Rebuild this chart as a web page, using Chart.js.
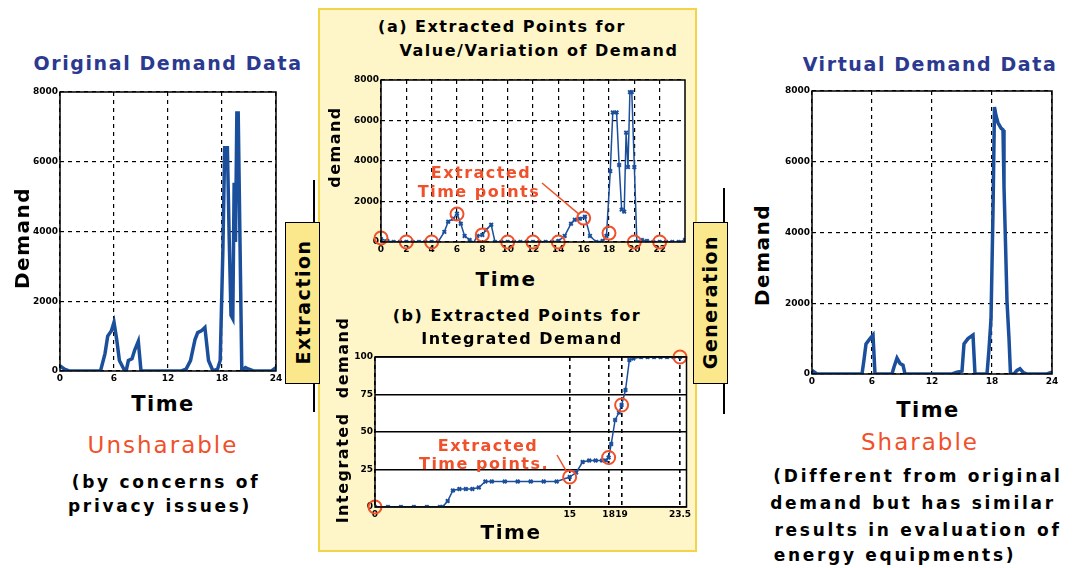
<!DOCTYPE html>
<html>
<head>
<meta charset="utf-8">
<script src="https://cdn.jsdelivr.net/npm/chart.js@4.4.1/dist/chart.umd.min.js"></script>
<style>
  body { margin: 0; background: #fff; }
  #stage { position: relative; width: 1074px; height: 568px; overflow: hidden;
           font-family: "DejaVu Sans", sans-serif; font-weight: bold; color: #000; }
  canvas { position: absolute; }
  .t { position: absolute; white-space: nowrap; transform: translate(-50%, -50%); }
  .r { position: absolute; white-space: nowrap; transform: translate(-50%, -50%) rotate(-90deg); }
  .blue { color: #2b3990; font-size: 19px; letter-spacing: 1.6px; }
  .axis { font-size: 20px; letter-spacing: 1.5px; }
  .sub { font-size: 16px; letter-spacing: 1.5px; }
  .note { color: #f0502a; font-size: 16px; letter-spacing: 1.5px; }
  .share { color: #f0502a; font-size: 23px; font-weight: normal; letter-spacing: 2px; }
  .desc { font-size: 17px; letter-spacing: 2.7px; }
  #panel { position: absolute; left: 318px; top: 8px; width: 375px; height: 540px;
           background: #fef6c8; border: 2px solid #f3d447; }
  .arrow { position: absolute; background: #fce88c; border: 1.5px solid #000; }
  .edge { position: absolute; width: 2px; background: #000; }
</style>
</head>
<body>
<div id="stage">
  <div id="panel"></div>

  <canvas id="cOrig" width="270" height="310" style="left:20px;top:82px"></canvas>
  <canvas id="cValue" width="370" height="195" style="left:325px;top:70px"></canvas>
  <canvas id="cInteg" width="370" height="180" style="left:325px;top:347px"></canvas>
  <canvas id="cVirt" width="290" height="313" style="left:775px;top:81px"></canvas>

  <div class="edge" style="left:313px;top:180px;height:232px"></div>
  <div class="arrow" style="left:285px;top:222px;width:33px;height:160px"></div>
  <div class="r axis" style="left:303px;top:302px;font-size:19px">Extraction</div>

  <div class="edge" style="left:723px;top:188px;height:226px"></div>
  <div class="arrow" style="left:693px;top:222px;width:33px;height:160px"></div>
  <div class="r axis" style="left:710px;top:302px;font-size:19px">Generation</div>

  <div class="t blue" style="left:168px;top:63px">Original Demand Data</div>
  <div class="r axis" style="left:22px;top:238px">Demand</div>
  <div class="t axis" style="left:163px;top:404px;font-size:21px">Time</div>
  <div class="t share" style="left:163px;top:445px">Unsharable</div>
  <div class="t desc" style="left:166px;top:482px">(by concerns of</div>
  <div class="t desc" style="left:160px;top:506px">privacy issues)</div>

  <div class="t sub" style="left:502px;top:26px">(a) Extracted Points for</div>
  <div class="t sub" style="left:539px;top:50px">Value/Variation of Demand</div>
  <div class="r sub" style="left:334px;top:147px">demand</div>
  <div class="t axis" style="left:506px;top:279px">Time</div>
  <div class="t note" style="left:481px;top:172px">Extracted</div>
  <div class="t note" style="left:479px;top:191px">Time points</div>

  <div class="t sub" style="left:517px;top:315px">(b) Extracted Points for</div>
  <div class="t sub" style="left:522px;top:338px">Integrated Demand</div>
  <div class="r sub" style="left:342px;top:420px">Integrated&nbsp; demand</div>
  <div class="t axis" style="left:511px;top:532px">Time</div>
  <div class="t note" style="left:488px;top:445px">Extracted</div>
  <div class="t note" style="left:484px;top:463px">Time points.</div>

  <div class="t blue" style="left:930px;top:64px">Virtual Demand Data</div>
  <div class="r axis" style="left:762px;top:255px">Demand</div>
  <div class="t axis" style="left:928px;top:410px;font-size:21px">Time</div>
  <div class="t share" style="left:920px;top:442px">Sharable</div>
  <div class="t desc" style="left:918px;top:476px">(Different from original</div>
  <div class="t desc" style="left:913px;top:503px">demand but has similar</div>
  <div class="t desc" style="left:918px;top:530px">results in evaluation of</div>
  <div class="t desc" style="left:895px;top:555px">energy equipments)</div>
</div>

<script>
// original demand (hours, demand)
const origTime = [0, 0.5, 1, 1.5, 2, 2.5, 3, 3.5, 4, 4.5, 5, 5.3, 5.7, 6, 6.3, 6.6, 7, 7.3, 7.6, 8,
    8.3, 8.7, 9, 9.5, 10, 10.5, 11, 11.5, 12, 12.5, 13, 13.5, 14, 14.5, 15, 15.3, 15.7, 16.1, 16.5, 17,
    17.5, 17.8, 18.1, 18.3, 18.6, 18.8, 19, 19.2, 19.35, 19.5, 19.65, 19.8, 20, 20.2, 20.6, 21, 21.5, 22, 22.5, 23,
    23.5, 24];
const origDemand = [150, 50, 0, 0, 0, 0, 0, 0, 0, 0, 500, 1000, 1150, 1400, 900, 300, 100, -50, 300, 350,
    600, 850, 0, 0, 0, 0, 0, 0, 0, 0, 0, 0, 50, 300, 900, 1100, 1150, 1250, 300, 0,
    50, 300, 3500, 6400, 6400, 3800, 1600, 1500, 5400, 3700, 7400, 7400, 3700, 0, 100, 50, 0, 0, 0, 0,
    0, 100];

// extracted points for value / variation
const valueExtractTime = [0, 2, 4, 6, 8, 10, 12, 14, 16, 18, 20, 22];
const valueExtractDemand = [200, 0, 0, 1380, 350, 0, 0, 0, 1180, 440, 0, 0];

// integrated demand
const integTime = [0, 1, 2, 3, 4, 5, 5.2, 5.6, 6, 6.5, 7, 7.5, 8, 8.5, 9, 10, 11, 12, 13, 14,
    15, 15.5, 16, 16.5, 17, 17.5, 17.8, 18, 18.2, 18.5, 18.8, 19, 19.3, 19.6, 19.9, 20.5, 21, 21.5, 22, 22.5,
    23, 23.5];
const integDemand = [0, 0, 0, 0, 0, 0, 0, 4, 11, 12, 12, 12, 13, 17, 17, 17, 17, 17, 17, 17,
    20, 23, 30, 31, 31, 31, 31, 33, 42, 58, 63, 68, 78, 98, 99, 100, 100, 100, 100, 100,
    100, 100];
const integExtractTime = [0, 15, 18, 19, 23.5];
const integExtractDemand = [0, 20, 33, 68, 100];

// virtual (generated) demand
const virtTime = [0, 0.5, 1, 1.5, 2, 2.5, 3, 3.5, 4, 4.5, 5, 5.2, 5.4, 5.8, 6.1, 6.3, 6.6, 7, 7.5, 8,
    8.2, 8.5, 8.8, 9.1, 9.3, 9.6, 10, 10.5, 11, 11.5, 12, 12.5, 13, 13.5, 14, 14.5, 15, 15.2, 15.6, 16.1,
    16.3, 16.6, 17, 17.5, 17.7, 17.9, 18.1, 18.25, 18.4, 18.6, 18.9, 19.1, 19.2, 19.35, 19.5, 19.7, 19.85, 20.2, 20.5, 20.8,
    21.1, 21.5, 22, 22.5, 23, 23.5, 24];
const virtDemand = [100, 0, 0, 0, 0, 0, 0, 0, 0, 0, 0, 400, 850, 1000, 1100, 0, 0, 0, 0, 0,
    200, 450, 300, 250, 0, 0, 0, 0, 0, 0, 0, 0, 0, 0, 0, 50, 80, 850, 1000, 1100,
    0, 0, 0, 0, 700, 1550, 4600, 7550, 7300, 7100, 6950, 6900, 5300, 3700, 2050, 1000, 0, 0, 100, 150,
    50, 0, 0, 0, 0, 0, 50];

// tick labels
const dayTicks = [0, 6, 12, 18, 24];
const demandTicks = [0, 2000, 4000, 6000, 8000];
const valueTimeTicks = [0, 2, 4, 6, 8, 10, 12, 14, 16, 18, 20, 22];
const integTimeTicks = [0, 15, 18, 19, 23.5];
const integTicks = [0, 25, 50, 75, 100];

const BLUE = '#1b4f9c';
const RED = '#f0502a';

const toPoints = (xs, ys) => xs.map((x, i) => ({ x: x, y: ys[i] }));

// white plot area + black frame around it
const framePlugin = {
    id: 'frame',
    beforeDraw(chart) {
        const { ctx, chartArea: a } = chart;
        ctx.save();
        ctx.fillStyle = '#fff';
        ctx.fillRect(a.left, a.top, a.width, a.height);
        ctx.restore();
    },
    afterDraw(chart) {
        const { ctx, chartArea: a } = chart;
        ctx.save();
        ctx.strokeStyle = '#000';
        ctx.lineWidth = 1.5;
        ctx.strokeRect(a.left, a.top, a.width, a.height);
        ctx.restore();
    },
};

// pointer line from a label to an extracted point
const pointerPlugin = {
    id: 'pointer',
    afterDraw(chart, args, opts) {
        if (opts.tx === undefined) return;
        const ctx = chart.ctx;
        const px = chart.scales.x.getPixelForValue(opts.tx);
        const py = chart.scales.y.getPixelForValue(opts.ty);
        const dx = px - opts.fx, dy = py - opts.fy;
        const len = Math.sqrt(dx * dx + dy * dy);
        ctx.save();
        ctx.strokeStyle = RED;
        ctx.lineWidth = 1.5;
        ctx.beginPath();
        ctx.moveTo(opts.fx, opts.fy);
        ctx.lineTo(px - dx / len * 7, py - dy / len * 7);
        ctx.stroke();
        ctx.restore();
    },
};

function axis(min, max, ticks, size, dashed, horizontal) {
    return {
        type: 'linear',
        min: min,
        max: max,
        afterBuildTicks: (s) => { s.ticks = ticks.map(v => ({ value: v })); },
        afterFit: (s) => { if (horizontal) s.height = size; else s.width = size; },
        grid: { color: '#000', lineWidth: 1.2, drawTicks: false },
        border: { display: false, dash: dashed ? [4, 4] : [] },
        ticks: {
            color: '#000',
            padding: 2,
            autoSkip: false,
            maxRotation: 0,
            font: { family: 'DejaVu Sans', size: 9, weight: 'bold' },
            callback: (v) => String(v),
        },
    };
}

function makeChart(id, datasets, scales, padRight, pointer) {
    return new Chart(document.getElementById(id), {
        type: 'line',
        data: { datasets: datasets },
        options: {
            responsive: false,
            animation: false,
            parsing: false,
            layout: { padding: { top: 10, right: padRight, left: 0, bottom: 0 } },
            plugins: { legend: { display: false }, tooltip: { enabled: false }, pointer: pointer || {} },
            scales: scales,
        },
        plugins: [framePlugin, pointerPlugin],
    });
}

function circles(xs, ys) {
    return {
        data: toPoints(xs, ys),
        showLine: false,
        pointRadius: 6.5,
        pointBorderWidth: 2,
        pointBorderColor: RED,
        pointBackgroundColor: 'rgba(0,0,0,0)',
        clip: false,
    };
}

makeChart('cOrig', [{
    data: toPoints(origTime, origDemand),
    borderColor: BLUE, borderWidth: 3.5, pointRadius: 0, tension: 0,
}], {
    x: axis(0, 24, dayTicks, 21, true, true),
    y: axis(0, 8000, demandTicks, 40, true, false),
}, 14);

makeChart('cValue', [
    circles(valueExtractTime, valueExtractDemand),
    {
        data: toPoints(origTime, origDemand),
        borderColor: BLUE, borderWidth: 1.5, tension: 0,
        pointStyle: 'crossRot', pointRadius: 2.5, pointBorderWidth: 2,
        pointBorderColor: BLUE, pointBackgroundColor: BLUE,
    },
], {
    x: axis(0, 24, valueTimeTicks, 23, true, true),
    y: axis(0, 8000, demandTicks, 56, true, false),
}, 10, { fx: 217, fy: 113, tx: 16, ty: 1180 });

const integX = axis(0, 24, integTimeTicks, 20, true, true);
integX.grid.lineWidth = 1.6;
const integY = axis(0, 100, integTicks, 50, false, false);
integY.grid.lineWidth = 1.6;
makeChart('cInteg', [
    circles(integExtractTime, integExtractDemand),
    {
        data: toPoints(integTime, integDemand),
        borderColor: BLUE, borderWidth: 1.5, tension: 0,
        pointStyle: 'crossRot', pointRadius: 2.5, pointBorderWidth: 2,
        pointBorderColor: BLUE, pointBackgroundColor: BLUE,
    },
], { x: integX, y: integY }, 8, { fx: 232, fy: 108, tx: 15, ty: 20 });

makeChart('cVirt', [{
    data: toPoints(virtTime, virtDemand),
    borderColor: BLUE, borderWidth: 3.5, pointRadius: 0, tension: 0,
}], {
    x: axis(0, 24, dayTicks, 20, true, true),
    y: axis(0, 8000, demandTicks, 37, true, false),
}, 13);
</script>
</body>
</html>
